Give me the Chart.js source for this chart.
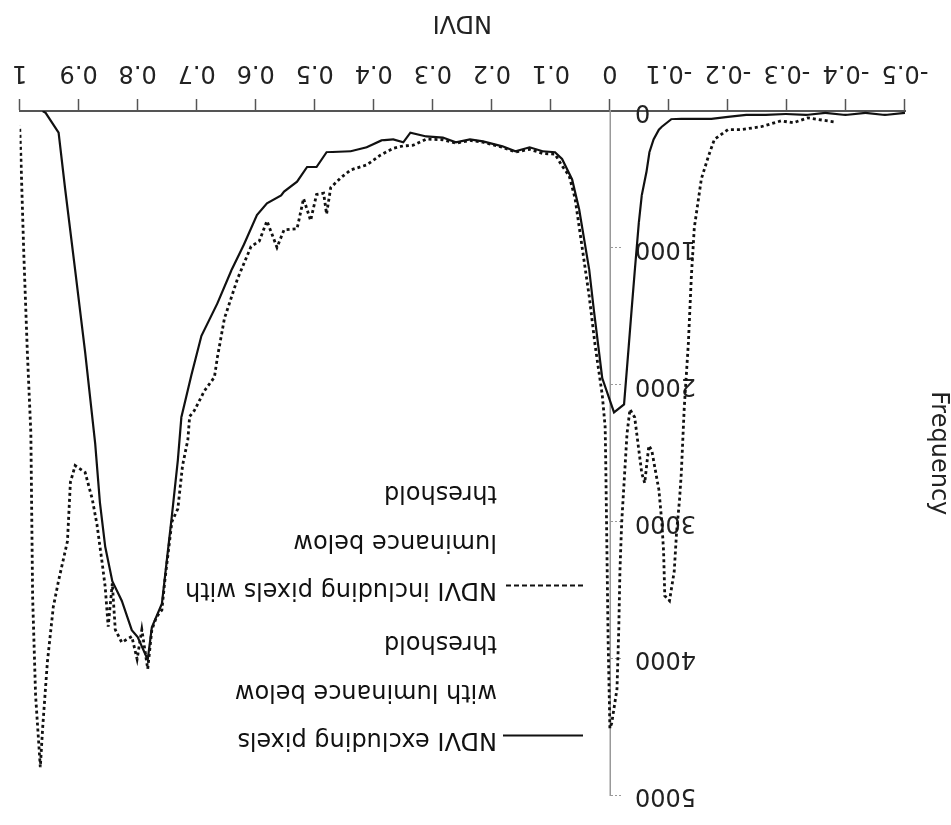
<!DOCTYPE html>
<html>
<head>
<meta charset="utf-8">
<title>NDVI frequency</title>
<script src="https://cdn.jsdelivr.net/npm/chart.js@4.4.1/dist/chart.umd.min.js"></script>
<style>
  html, body { margin: 0; padding: 0; background: #fff; overflow: hidden; }
  /* the reference picture is printed upside down */
  #wrap { width: 951px; height: 825px; transform: rotate(180deg); }
  canvas { display: block; background: #fff; }
</style>
</head>
<body>
<div id="wrap"><canvas id="ndviChart" width="951" height="825"></canvas></div>
<script>
// Tick labels
const xTickValues = [-0.5, -0.4, -0.3, -0.2, -0.1, 0, 0.1, 0.2, 0.3, 0.4, 0.5, 0.6, 0.7, 0.8, 0.9, 1];
const yTickValues = [0, 1000, 2000, 3000, 4000, 5000];

// NDVI excluding pixels with luminance below threshold (solid)
const ndviExcluding = [
	-0.500, -0.466, -0.433, -0.399, -0.365, -0.332, -0.298, -0.264, -0.231, -0.200,
	-0.172, -0.146, -0.121, -0.104, -0.088, -0.083, -0.074, -0.067, -0.062, -0.054,
	-0.049, -0.042, -0.037, -0.032, -0.024, -0.007, 0.013, 0.027, 0.035,
	0.052, 0.064, 0.081, 0.093, 0.114, 0.136, 0.160, 0.182, 0.215, 0.237,
	0.261, 0.283, 0.311, 0.338, 0.350, 0.367, 0.387, 0.412, 0.439, 0.480,
	0.497, 0.513, 0.530, 0.552, 0.557, 0.581, 0.598, 0.620, 0.641, 0.665,
	0.692, 0.709, 0.726, 0.732, 0.742, 0.759, 0.776, 0.783, 0.800, 0.810,
	0.827, 0.843, 0.855, 0.864, 0.872, 0.889, 0.906, 0.923, 0.934, 0.956,
	0.961
];
const freqExcluding = [
	14, 29, 14, 29, 14, 29, 22, 29, 29, 43,
	57, 57, 57, 60, 115, 136, 208, 301, 444, 616,
	817, 1176, 1441, 1713, 2143, 2201, 1950, 1460, 1160,
	720, 500, 350, 301, 294, 265, 294, 258, 222, 208,
	229, 194, 186, 158, 229, 208, 215, 265, 294, 301,
	409, 409, 516, 588, 616, 674, 760, 975, 1161, 1405,
	1642, 1928, 2237, 2552, 2953, 3599, 3771, 4007, 3842, 3792,
	3577, 3434, 3183, 2860, 2430, 1763, 1161, 566, 158, 14,
	0
];

// NDVI including pixels with luminance below threshold (dotted)
const ndviIncluding = [
	-0.379, -0.335, -0.311, -0.290, -0.256, -0.222, -0.200, -0.177, -0.167, -0.155,
	-0.143, -0.138, -0.133, -0.126, -0.121, -0.118, -0.113, -0.109, -0.101, -0.093,
	-0.091, -0.088, -0.083, -0.071, -0.066, -0.059, -0.054, -0.042, -0.034, -0.029,
	-0.025, -0.020, -0.017, -0.015, -0.012, -0.003, 0.000, 0.003, 0.005, 0.007,
	0.008, 0.013, 0.025, 0.035, 0.047, 0.059, 0.069, 0.081, 0.093, 0.114,
	0.136, 0.160, 0.182, 0.215, 0.237, 0.261, 0.283, 0.311, 0.333, 0.350,
	0.367, 0.389, 0.412, 0.439, 0.456, 0.473, 0.480, 0.485, 0.497, 0.507,
	0.519, 0.530, 0.552, 0.564, 0.581, 0.594, 0.608, 0.631, 0.653, 0.665,
	0.670, 0.687, 0.704, 0.712, 0.715, 0.724, 0.732, 0.742, 0.754, 0.759,
	0.768, 0.776, 0.783, 0.793, 0.801, 0.810, 0.827, 0.838, 0.843, 0.850,
	0.855, 0.860, 0.869, 0.877, 0.889, 0.906, 0.914, 0.919, 0.934, 0.943,
	0.953, 0.961, 0.965, 0.973, 0.978, 0.981, 0.987, 0.993, 0.998, 1.000
];
const freqIncluding = [
	79, 50, 86, 72, 115, 136, 136, 208, 330, 495,
	853, 1211, 1692, 2165, 2645, 2839, 3075, 3362, 3577, 3541,
	3219, 3004, 2767, 2480, 2444, 2717, 2645, 2237, 2179, 2358,
	2645, 3004, 3362, 3792, 4222, 4473, 4509, 3864, 3219, 2573,
	2308, 2072, 1713, 1355, 996, 638, 473, 401, 315, 310,
	280, 300, 265, 228, 215, 235, 210, 205, 250, 255,
	272, 323, 394, 430, 488, 560, 753, 600, 610, 800,
	640, 860, 868, 996, 803, 950, 990, 1227, 1514, 1800,
	1944, 2044, 2188, 2231, 2400, 2590, 2905, 2999, 3429, 3644,
	3694, 3788, 4075, 3788, 4003, 3838, 3881, 3788, 3450, 3766,
	3479, 3307, 3020, 2834, 2640, 2590, 2712, 3142, 3429, 3623,
	4024, 4505, 4792, 4268, 3551, 2353, 1757, 1040, 323, 108
];

// Legend texts, one list of lines per dataset
const legendLines = [
	['NDVI excluding pixels', 'with luminance below', 'threshold'],
	['NDVI including pixels with', 'luminance below', 'threshold']
];

const FONT = 'DejaVu Sans';
Chart.defaults.font.family = FONT;
Chart.defaults.font.size = 24;
Chart.defaults.color = '#222';

// Pairs the x and y arrays into points
function toPoints(xs, ys) {
	return xs.map((x, i) => ({ x: x, y: ys[i] }));
}

function formatNdvi(v) {
	return String(Math.round(v * 10) / 10);
}

// A y axis placed at x = 0 ignores tick padding, so push its labels left
const yLabelGap = {
	id: 'yLabelGap',
	beforeDraw(chart) {
		const items = chart.scales.y.getLabelItems();
		items.forEach(item => {
			if (!item.shifted) {
				item.options.translation[0] -= 25;
				item.shifted = true;
			}
		});
	}
};

// Draws the multi-line legend and the y axis title
const sideText = {
	id: 'sideText',
	afterDraw(chart) {
		const { ctx, chartArea } = chart;
		ctx.save();
		ctx.font = '24px "' + FONT + '"';
		ctx.fillStyle = '#111';
		ctx.textBaseline = 'middle';

		// Legend
		legendLines.forEach((lines, i) => {
			const ds = chart.data.datasets[i];
			const top = chartArea.top + 56 + i * 150;
			ctx.strokeStyle = ds.borderColor;
			ctx.lineWidth = 2;
			ctx.setLineDash(ds.borderDash ? [5, 3] : []);
			ctx.beginPath();
			ctx.moveTo(chartArea.left + 322, top + 4);
			ctx.lineTo(chartArea.left + 402, top + 4);
			ctx.stroke();
			ctx.setLineDash([]);
			ctx.textAlign = 'left';
			lines.forEach((line, k) => {
				ctx.fillText(line, chartArea.left + 408, top + k * 48.5);
			});
		});

		// Y axis title
		ctx.translate(13, (chartArea.top + chartArea.bottom) / 2);
		ctx.rotate(-Math.PI / 2);
		ctx.textAlign = 'center';
		ctx.fillStyle = '#222';
		ctx.fillText('Frequency', 0, 0);
		ctx.restore();
	}
};

function makeChart() {
	let context = document.querySelector('#ndviChart');

	return new Chart(context, {
		type: 'line',
		data: {
			datasets: [
				{
					label: legendLines[0].join(' '),
					data: toPoints(ndviExcluding, freqExcluding),
					borderColor: '#111',
					borderWidth: 2.2,
					pointRadius: 0,
					tension: 0,
					fill: false
				},
				{
					label: legendLines[1].join(' '),
					data: toPoints(ndviIncluding, freqIncluding),
					borderColor: '#111',
					borderWidth: 2.8,
					borderDash: [3, 3],
					pointRadius: 0,
					tension: 0,
					fill: false
				}
			]
		},
		options: {
			responsive: false,
			animation: false,
			layout: { padding: { left: 46, right: 14, top: 16, bottom: 0 } },
			plugins: {
				legend: { display: false },
				tooltip: { enabled: false }
			},
			scales: {
				x: {
					type: 'linear',
					min: -0.5,
					max: 1,
					afterBuildTicks: scale => { scale.ticks = xTickValues.map(v => ({ value: v })); },
					afterFit: scale => { scale.height = 111; },
					grid: { drawOnChartArea: false, tickLength: 12, tickColor: '#555', tickWidth: 1.5 },
					border: { color: '#555', width: 2 },
					ticks: { padding: 12, autoSkip: false, maxRotation: 0, callback: v => formatNdvi(v) },
					title: { display: true, text: 'NDVI', padding: { top: 0, bottom: 8 } }
				},
				y: {
					type: 'linear',
					min: 0,
					max: 5000,
					position: { x: 0 },
					afterBuildTicks: scale => { scale.ticks = yTickValues.map(v => ({ value: v })); },
					grid: { drawOnChartArea: false, tickLength: 12, tickColor: '#999', tickBorderDash: [2, 2] },
					border: { color: '#999', width: 1.5 },
					ticks: { padding: 15, callback: v => String(v) }
				}
			}
		},
		plugins: [yLabelGap, sideText]
	});
}

window.onload = () => {
	makeChart();
};
</script>
</body>
</html>
